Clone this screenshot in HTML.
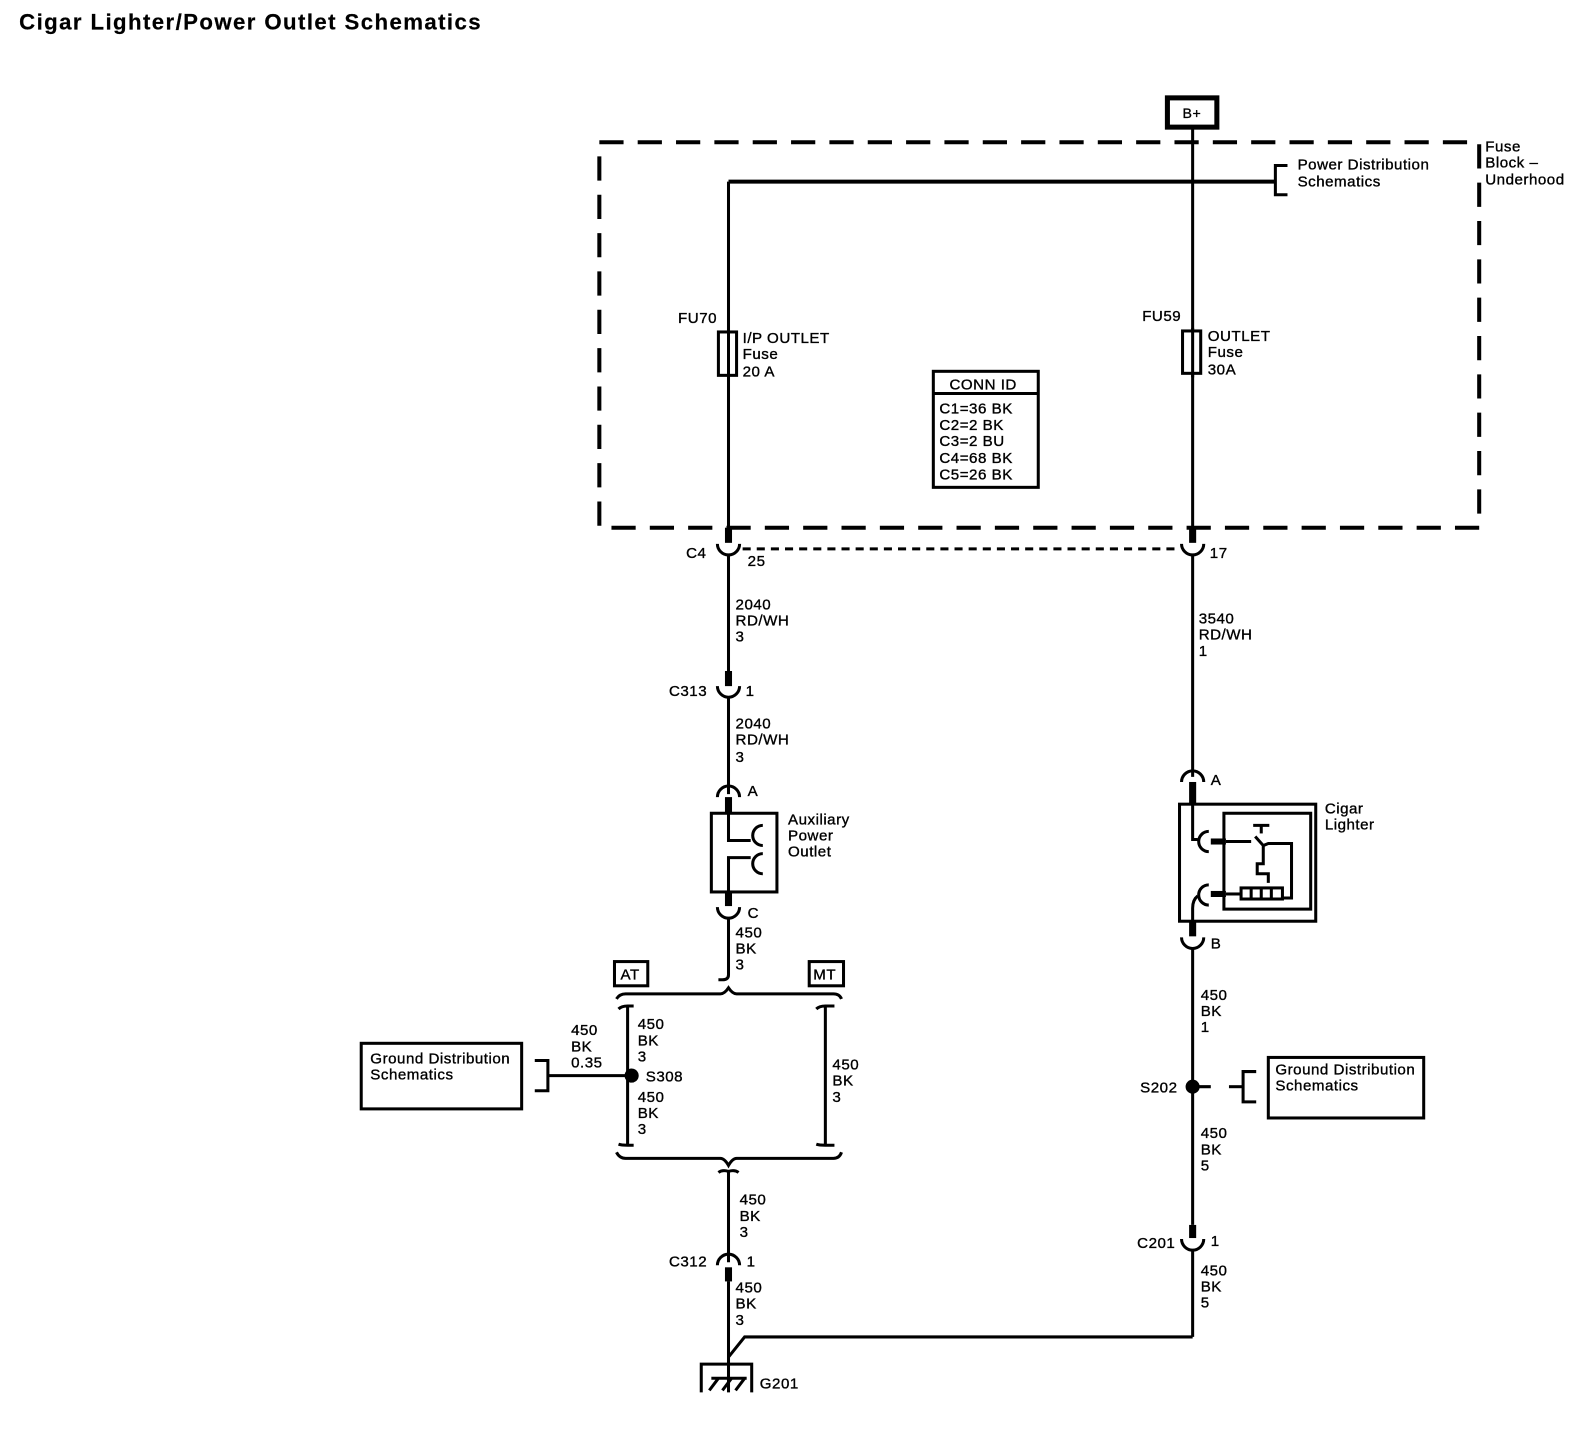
<!DOCTYPE html>
<html><head><meta charset="utf-8"><style>
html,body{margin:0;padding:0;background:#fff;width:1582px;height:1440px;overflow:hidden}
svg{display:block}
text{font-family:"Liberation Sans",Arial,sans-serif;font-size:15px;fill:#000;letter-spacing:0.5px;stroke:#000;stroke-width:0.35px}
</style></head><body>
<svg width="1582" height="1440" viewBox="0 0 1582 1440" xmlns="http://www.w3.org/2000/svg">
<g transform="scale(1.009)">
<text x="19" y="29" style="font-size:22px;font-weight:bold;letter-spacing:1.4px;stroke-width:0.2px">Cigar Lighter/Power Outlet Schematics</text>

<g fill="none" stroke="#000" stroke-width="3">
<rect x="594" y="141" width="872" height="382" stroke-width="4" stroke-dasharray="24 14"/>
<rect x="1157" y="97" width="49" height="29" stroke-width="5"/>
<line x1="1182" y1="127" x2="1182" y2="530"/>
<line x1="722" y1="180" x2="1264" y2="180" stroke-width="4"/>
<path d="M1276 164 H1264 V193 H1276"/>
<line x1="722" y1="180" x2="722" y2="530"/>
<rect x="712" y="329" width="18" height="43" fill="#fff"/>
<rect x="1172" y="328" width="18" height="42" fill="#fff"/>
<line x1="722" y1="326" x2="722" y2="376"/>
<line x1="1182" y1="325" x2="1182" y2="374"/>
<rect x="925" y="368" width="104" height="115"/>
<line x1="925" y1="390" x2="1029" y2="390"/>

<line x1="722" y1="523" x2="722" y2="538" stroke-width="7"/>
<path d="M711 539 A11 11 0 0 0 733 539"/>
<line x1="1182" y1="523" x2="1182" y2="538" stroke-width="7"/>
<path d="M1171 539 A11 11 0 0 0 1193 539"/>
<line x1="736" y1="544" x2="1170" y2="544" stroke-dasharray="8 6"/>
<line x1="722" y1="550" x2="722" y2="665"/>
<line x1="722" y1="665" x2="722" y2="680" stroke-width="7"/>
<path d="M711 680 A11 11 0 0 0 733 680"/>
<line x1="722" y1="690" x2="722" y2="787"/>
<path d="M711 790 A11 11 0 0 1 733 790"/>
<line x1="722" y1="790" x2="722" y2="806" stroke-width="7"/>
<rect x="705" y="806" width="65" height="78"/>
<path d="M722 806 V833 H744"/>
<path d="M756 818 A10 10 0 0 0 756 838"/>
<path d="M722 884 V850 H744"/>
<path d="M756 846 A10 10 0 0 0 756 866"/>
<line x1="722" y1="884" x2="722" y2="898" stroke-width="7"/>
<path d="M711 899 A11 11 0 0 0 733 899"/>
<path d="M722 909 V966 Q722 971 716 971 H712"/>
<path d="M611 990 Q614 985 620 985 H714 Q718 985 722 979 Q726 985 730 985 H826 Q832 985 834 990"/>
<rect x="609" y="953" width="33" height="24" stroke-width="3"/>
<rect x="802" y="953" width="34" height="24" stroke-width="3"/>
<path d="M613 1000 Q616 997 622 997 H628 M622 997 V1135 H628 M613 1134 Q616 1135 622 1135"/>
<path d="M809 1000 Q812 997 818 997 H827 M818 997 V1135 H827 M809 1134 Q812 1135 818 1135"/>
<path d="M611 1142 Q614 1148 620 1148 H714 Q718 1148 722 1155 Q726 1148 730 1148 H826 Q832 1148 834 1142"/>
<line x1="543" y1="1066" x2="622" y2="1066"/>
<path d="M530 1051 H543 V1081 H530"/>
<rect x="358" y="1034" width="159" height="65"/>
<path d="M712 1162 Q716 1159 722 1161 Q728 1159 732 1162"/>
<line x1="722" y1="1161" x2="722" y2="1251"/>
<path d="M711 1254 A11 11 0 0 1 733 1254"/>
<line x1="722" y1="1256" x2="722" y2="1270" stroke-width="7"/>
<line x1="722" y1="1270" x2="722" y2="1380"/>
<path d="M722 1345 L738 1325 H1182"/>
<path d="M695 1380 V1352 H745 V1380"/>
<path d="M703 1378 L712 1366 M716 1378 L725 1366 M729 1378 L738 1366 M705 1366 H740"/>

<line x1="1182" y1="550" x2="1182" y2="770"/>
<path d="M1171 775 A11 11 0 0 1 1193 775"/>
<line x1="1182" y1="775" x2="1182" y2="797" stroke-width="7"/>
<rect x="1169" y="797" width="135" height="116"/>
<rect x="1213" y="806" width="86" height="95"/>
<path d="M1182 797 V832 H1187"/>
<path d="M1198 824 A10 10 0 0 0 1198 844"/>
<line x1="1200" y1="834" x2="1215" y2="834" stroke-width="6"/>
<line x1="1215" y1="834" x2="1240" y2="834"/>
<path d="M1244 829 L1252 838 V856 H1246 V866 H1257 V875 M1252 838 L1257 836 H1280 V890 H1271"/>
<line x1="1242" y1="818" x2="1258" y2="818"/>
<line x1="1250" y1="818" x2="1250" y2="826"/>
<path d="M1198 877 A10 10 0 0 0 1198 897"/>
<path d="M1187 888 Q1182 892 1182 900 V913"/>
<line x1="1200" y1="886" x2="1215" y2="886" stroke-width="6"/>
<line x1="1215" y1="886" x2="1230" y2="886"/>
<rect x="1230" y="880" width="41" height="11"/>
<path d="M1240 880 V891 M1250 880 V891 M1260 880 V891"/>
<line x1="1182" y1="913" x2="1182" y2="928" stroke-width="7"/>
<path d="M1171 929 A11 11 0 0 0 1193 929"/>
<line x1="1182" y1="939" x2="1182" y2="1214"/>
<line x1="1182" y1="1077" x2="1200" y2="1077"/>
<line x1="1218" y1="1077" x2="1232" y2="1077"/>
<path d="M1245 1062 H1232 V1092 H1245"/>
<rect x="1257" y="1048" width="154" height="60"/>
<line x1="1182" y1="1214" x2="1182" y2="1227" stroke-width="7"/>
<path d="M1171 1228 A11 11 0 0 0 1193 1228"/>
<line x1="1182" y1="1238" x2="1182" y2="1325"/>
</g>
<circle cx="626" cy="1066" r="7"/>
<circle cx="1182" cy="1077" r="7"/>

<text x="1172" y="117" style="font-size:14px">B+</text>
<text x="1472" y="150">Fuse</text>
<text x="1472" y="166">Block –</text>
<text x="1472" y="183">Underhood</text>
<text x="1286" y="168">Power Distribution</text>
<text x="1286" y="185">Schematics</text>
<text x="672" y="320">FU70</text>
<text x="736" y="340">I/P OUTLET</text>
<text x="736" y="356">Fuse</text>
<text x="736" y="373">20 A</text>
<text x="1132" y="318">FU59</text>
<text x="1197" y="338">OUTLET</text>
<text x="1197" y="354">Fuse</text>
<text x="1197" y="371">30A</text>
<text x="941" y="386">CONN ID</text>
<text x="931" y="410">C1=36 BK</text>
<text x="931" y="426">C2=2 BK</text>
<text x="931" y="442">C3=2 BU</text>
<text x="931" y="459">C4=68 BK</text>
<text x="931" y="475">C5=26 BK</text>
<text x="680" y="553">C4</text>
<text x="741" y="561">25</text>
<text x="1199" y="553">17</text>
<text x="729" y="604">2040</text>
<text x="729" y="620">RD/WH</text>
<text x="729" y="636">3</text>
<text x="663" y="690">C313</text>
<text x="739" y="690">1</text>
<text x="729" y="722">2040</text>
<text x="729" y="738">RD/WH</text>
<text x="729" y="755">3</text>
<text x="741" y="789">A</text>
<text x="781" y="817">Auxiliary</text>
<text x="781" y="833">Power</text>
<text x="781" y="849">Outlet</text>
<text x="741" y="910">C</text>
<text x="729" y="929">450</text>
<text x="729" y="945">BK</text>
<text x="729" y="961">3</text>
<text x="615" y="971">AT</text>
<text x="806" y="971">MT</text>
<text x="632" y="1020">450</text>
<text x="632" y="1036">BK</text>
<text x="632" y="1052">3</text>
<text x="640" y="1072">S308</text>
<text x="632" y="1092">450</text>
<text x="632" y="1108">BK</text>
<text x="632" y="1124">3</text>
<text x="825" y="1060">450</text>
<text x="825" y="1076">BK</text>
<text x="825" y="1092">3</text>
<text x="566" y="1026">450</text>
<text x="566" y="1042">BK</text>
<text x="566" y="1058">0.35</text>
<text x="367" y="1054">Ground Distribution</text>
<text x="367" y="1070">Schematics</text>
<text x="733" y="1194">450</text>
<text x="733" y="1210">BK</text>
<text x="733" y="1226">3</text>
<text x="663" y="1255">C312</text>
<text x="740" y="1255">1</text>
<text x="729" y="1281">450</text>
<text x="729" y="1297">BK</text>
<text x="729" y="1313">3</text>
<text x="753" y="1376">G201</text>
<text x="1188" y="618">3540</text>
<text x="1188" y="634">RD/WH</text>
<text x="1188" y="650">1</text>
<text x="1200" y="778">A</text>
<text x="1313" y="806">Cigar</text>
<text x="1313" y="822">Lighter</text>
<text x="1200" y="940">B</text>
<text x="1190" y="991">450</text>
<text x="1190" y="1007">BK</text>
<text x="1190" y="1023">1</text>
<text x="1130" y="1083">S202</text>
<text x="1264" y="1065">Ground Distribution</text>
<text x="1264" y="1081">Schematics</text>
<text x="1190" y="1128">450</text>
<text x="1190" y="1144">BK</text>
<text x="1190" y="1160">5</text>
<text x="1127" y="1237">C201</text>
<text x="1200" y="1235">1</text>
<text x="1190" y="1264">450</text>
<text x="1190" y="1280">BK</text>
<text x="1190" y="1296">5</text>
</g>
</svg>
</body></html>
